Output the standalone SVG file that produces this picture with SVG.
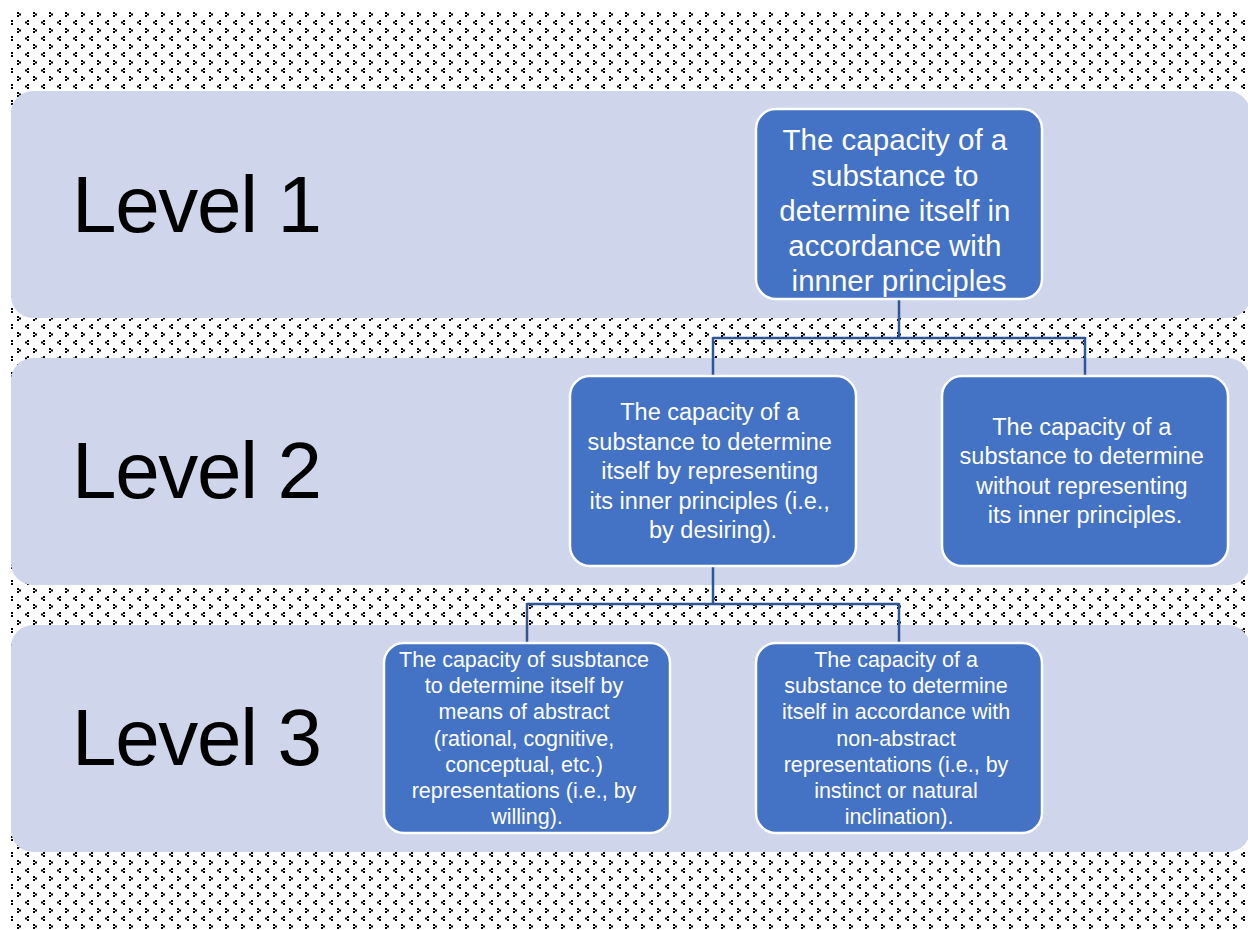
<svg xmlns="http://www.w3.org/2000/svg" width="1248" height="930" viewBox="0 0 1248 930">
  <defs>
    <pattern id="dots" patternUnits="userSpaceOnUse" x="1" y="12" width="16" height="16">
      <path d="M0,0h2v2h-2z M2,1.5h2v2h-2z M0,3h2v2h-2z" fill="#000"/>
      <path d="M10,8h2v2h-2z M8,9.5h2v2h-2z M10,11h2v2h-2z" fill="#000"/>
    </pattern>
  </defs>
  <style>
    .band { fill: #CFD5EA; }
    .lvl { font-family: "Liberation Sans", Arial, sans-serif; font-size: 80px; fill: #000; }
    .box { fill: #4472C4; stroke: #FFFFFF; stroke-width: 2.5; }
    .t { font-family: "Liberation Sans", Arial, sans-serif; fill: #FFFFFF; text-anchor: middle; }
    .conn { fill: none; stroke: #2F5597; stroke-width: 2.5; }
  </style>
  <rect x="0" y="0" width="1248" height="930" fill="#FFFFFF"/>
  <rect x="11" y="12" width="1237" height="918" fill="url(#dots)"/>

  <g id="band1">
    <rect class="band" x="11" y="91" width="1239" height="227" rx="22"/>
    <text class="lvl" x="72" y="232" textLength="250">Level 1</text>
  </g>
  <g id="band2">
    <rect class="band" x="11" y="358" width="1239" height="227" rx="22"/>
    <text class="lvl" x="72" y="498" textLength="250">Level 2</text>
  </g>
  <g id="band3">
    <rect class="band" x="11" y="625" width="1239" height="227" rx="22"/>
    <text class="lvl" x="72" y="765" textLength="250">Level 3</text>
  </g>

  <g id="connectors">
    <path class="conn" d="M899,299 V338 M713,338 H1085 M713,337 V376 M1085,337 V376"/>
    <path class="conn" d="M713,566 V604 M527,604 H899 M527,603 V643 M899,603 V643"/>
  </g>

  <g id="node1">
    <rect class="box" x="756" y="109" width="286" height="190" rx="20"/>
    <text class="t" font-size="29.5">
      <tspan x="899" y="150">The capacity of a</tspan>
      <tspan x="899" y="186">substance to</tspan>
      <tspan x="899" y="221">determine itself in</tspan>
      <tspan x="899" y="256">accordance with</tspan>
      <tspan x="899" y="291">innner principles</tspan>
    </text>
  </g>

  <g id="node2">
    <rect class="box" x="570" y="376" width="286" height="190" rx="20"/>
    <text class="t" font-size="23.5">
      <tspan x="713" y="420">The capacity of a</tspan>
      <tspan x="713" y="450">substance to determine</tspan>
      <tspan x="713" y="479">itself by representing</tspan>
      <tspan x="713" y="509">its inner principles (i.e.,</tspan>
      <tspan x="713" y="538">by desiring).</tspan>
    </text>
  </g>

  <g id="node3">
    <rect class="box" x="942" y="376" width="286" height="190" rx="20"/>
    <text class="t" font-size="23.5">
      <tspan x="1085" y="435">The capacity of a</tspan>
      <tspan x="1085" y="464">substance to determine</tspan>
      <tspan x="1085" y="494">without representing</tspan>
      <tspan x="1085" y="523">its inner principles.</tspan>
    </text>
  </g>

  <g id="node4">
    <rect class="box" x="384" y="643" width="286" height="190" rx="20"/>
    <text class="t" font-size="21.5">
      <tspan x="527" y="667">The capacity of susbtance</tspan>
      <tspan x="527" y="693">to determine itself by</tspan>
      <tspan x="527" y="719">means of abstract</tspan>
      <tspan x="527" y="746">(rational, cognitive,</tspan>
      <tspan x="527" y="772">conceptual, etc.)</tspan>
      <tspan x="527" y="798">representations (i.e., by</tspan>
      <tspan x="527" y="824">willing).</tspan>
    </text>
  </g>

  <g id="node5">
    <rect class="box" x="756" y="643" width="286" height="190" rx="20"/>
    <text class="t" font-size="21.5">
      <tspan x="899" y="667">The capacity of a</tspan>
      <tspan x="899" y="693">substance to determine</tspan>
      <tspan x="899" y="719">itself in accordance with</tspan>
      <tspan x="899" y="746">non-abstract</tspan>
      <tspan x="899" y="772">representations (i.e., by</tspan>
      <tspan x="899" y="798">instinct or natural</tspan>
      <tspan x="899" y="824">inclination).</tspan>
    </text>
  </g>
</svg>
